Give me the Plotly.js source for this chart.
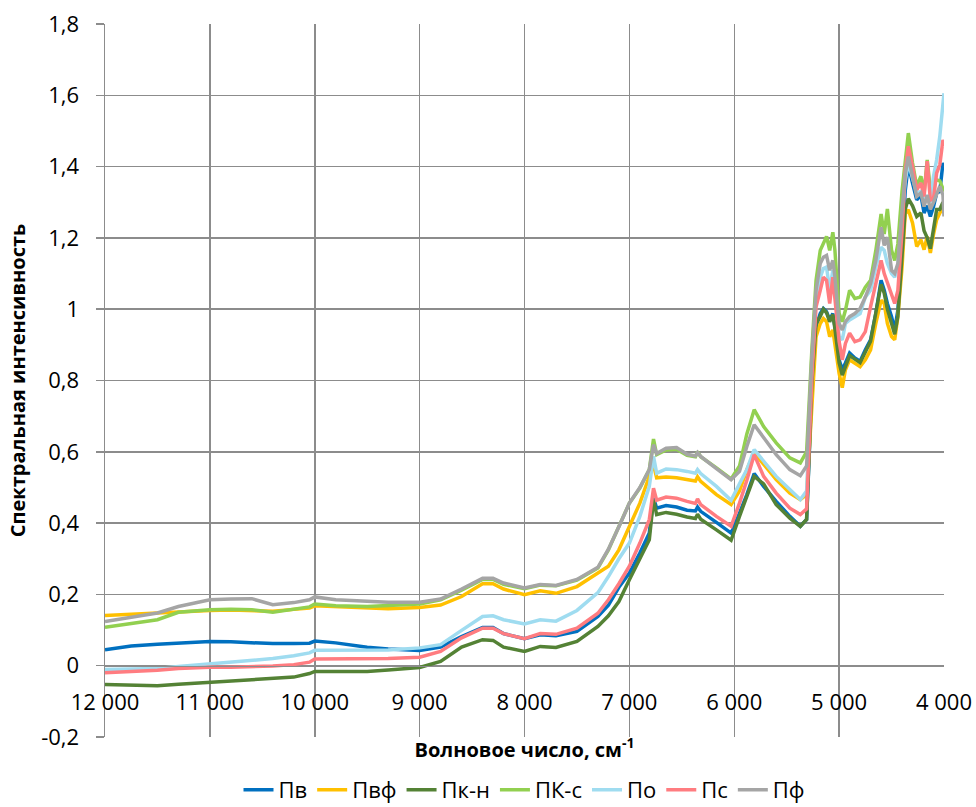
<!DOCTYPE html>
<html>
<head>
<meta charset="utf-8">
<script src="https://cdn.plot.ly/plotly-3.0.1.min.js"></script>
<style>html,body{margin:0;padding:0;background:#fff;}#chart{width:976px;height:807px;}</style>
</head>
<body>
<div id="chart"></div>
<script>
const wavenumbers = [12000,11750,11500,11300,11000,10800,10600,10400,10200,10050,10000,9800,9500,9300,9000,8800,8600,8400,8300,8200,8000,7850,7700,7500,7300,7200,7100,7000,6900,6810,6770,6740,6650,6550,6450,6370,6350,6320,6170,6030,5950,5880,5810,5720,5600,5470,5370,5310,5260,5220,5180,5150,5120,5090,5060,5040,5000,4970,4940,4900,4850,4800,4750,4700,4650,4600,4570,4540,4500,4470,4440,4400,4370,4340,4300,4260,4220,4190,4160,4130,4100,4070,4040,4010,4000];

const seriesNames = ["Пв","Пвф","Пк-н","ПК-с","По","Пс","Пф"];
const seriesColors = ["#0070C0","#FFC000","#548235","#92D050","#9FDCF0","#FF7C80","#A5A5A5"];

const pv = [0.045,0.055,0.060,0.064,0.068,0.067,0.064,0.062,0.062,0.063,0.069,0.064,0.052,0.047,0.043,0.052,0.082,0.107,0.107,0.090,0.076,0.087,0.084,0.096,0.138,0.170,0.220,0.260,0.316,0.372,0.470,0.442,0.449,0.445,0.436,0.434,0.445,0.433,0.402,0.372,0.428,0.480,0.539,0.503,0.461,0.419,0.391,0.410,0.774,0.951,0.988,1.002,0.993,0.970,0.988,0.951,0.858,0.830,0.849,0.877,0.863,0.854,0.886,0.914,0.988,1.081,1.053,1.016,0.979,0.942,0.997,1.165,1.332,1.405,1.354,1.307,1.320,1.270,1.290,1.260,1.288,1.326,1.330,1.410,1.400];

const pvf = [0.141,0.145,0.148,0.152,0.155,0.156,0.155,0.153,0.158,0.162,0.168,0.166,0.162,0.160,0.163,0.170,0.194,0.230,0.230,0.215,0.199,0.210,0.203,0.222,0.260,0.279,0.325,0.391,0.456,0.531,0.564,0.527,0.529,0.527,0.522,0.518,0.530,0.517,0.480,0.452,0.490,0.550,0.597,0.564,0.522,0.484,0.466,0.480,0.746,0.923,0.960,0.974,0.965,0.923,0.942,0.895,0.820,0.780,0.830,0.858,0.849,0.839,0.858,0.886,0.960,1.025,1.016,0.960,0.923,0.914,0.979,1.118,1.267,1.279,1.242,1.176,1.195,1.167,1.204,1.158,1.210,1.251,1.270,1.280,1.275];

const pkn = [-0.053,-0.055,-0.056,-0.052,-0.047,-0.043,-0.040,-0.037,-0.032,-0.022,-0.016,-0.016,-0.016,-0.012,-0.005,0.012,0.052,0.073,0.071,0.052,0.040,0.054,0.051,0.068,0.110,0.140,0.180,0.241,0.302,0.353,0.466,0.424,0.430,0.425,0.417,0.413,0.425,0.411,0.381,0.352,0.419,0.475,0.531,0.510,0.452,0.414,0.391,0.410,0.793,0.960,0.980,1.000,0.990,0.965,0.985,0.945,0.850,0.815,0.840,0.870,0.860,0.850,0.880,0.910,0.990,1.070,1.045,1.000,0.960,0.930,0.980,1.150,1.280,1.310,1.290,1.260,1.270,1.220,1.200,1.170,1.230,1.280,1.280,1.300,1.270];

const pks = [0.108,0.118,0.129,0.150,0.157,0.158,0.157,0.150,0.158,0.165,0.173,0.168,0.166,0.168,0.173,0.185,0.212,0.242,0.242,0.228,0.216,0.226,0.224,0.240,0.274,0.325,0.390,0.456,0.498,0.550,0.636,0.592,0.605,0.607,0.590,0.586,0.600,0.586,0.555,0.524,0.560,0.650,0.718,0.671,0.625,0.583,0.569,0.600,0.886,1.081,1.165,1.183,1.204,1.165,1.216,1.165,0.988,0.965,0.997,1.053,1.030,1.034,1.062,1.081,1.165,1.267,1.211,1.281,1.165,1.137,1.183,1.332,1.425,1.494,1.410,1.345,1.373,1.326,1.419,1.335,1.350,1.363,1.360,1.335,1.330];

const po = [-0.011,-0.010,-0.008,-0.002,0.005,0.009,0.014,0.020,0.028,0.036,0.043,0.043,0.042,0.044,0.050,0.059,0.099,0.138,0.140,0.129,0.117,0.129,0.125,0.155,0.205,0.250,0.300,0.344,0.419,0.503,0.587,0.540,0.552,0.550,0.545,0.540,0.550,0.539,0.503,0.464,0.510,0.550,0.606,0.573,0.531,0.494,0.466,0.490,0.839,1.025,1.090,1.114,1.118,1.053,1.109,1.053,0.923,0.914,0.960,0.970,0.979,0.988,1.034,1.053,1.118,1.174,1.165,1.128,1.100,1.090,1.118,1.258,1.360,1.410,1.363,1.326,1.330,1.298,1.320,1.300,1.373,1.419,1.485,1.569,1.606];

const ps = [-0.020,-0.017,-0.013,-0.008,-0.004,-0.004,-0.003,-0.001,0.003,0.010,0.019,0.019,0.019,0.020,0.024,0.040,0.078,0.105,0.105,0.090,0.076,0.090,0.088,0.105,0.147,0.185,0.230,0.279,0.344,0.410,0.498,0.464,0.473,0.470,0.461,0.455,0.468,0.452,0.419,0.391,0.456,0.520,0.592,0.531,0.484,0.442,0.424,0.440,0.810,1.007,1.053,1.090,1.081,1.016,1.090,1.034,0.909,0.858,0.904,0.933,0.909,0.914,0.937,1.007,1.072,1.137,1.100,1.076,1.044,1.016,1.053,1.220,1.388,1.457,1.400,1.335,1.354,1.316,1.415,1.306,1.310,1.382,1.405,1.475,1.457];

const pf = [0.124,0.135,0.148,0.166,0.185,0.187,0.188,0.171,0.177,0.185,0.193,0.185,0.180,0.178,0.178,0.187,0.215,0.245,0.245,0.232,0.218,0.228,0.225,0.242,0.276,0.327,0.390,0.456,0.500,0.550,0.620,0.595,0.610,0.612,0.593,0.588,0.598,0.587,0.553,0.522,0.545,0.615,0.676,0.639,0.592,0.550,0.533,0.560,0.867,1.053,1.128,1.146,1.151,1.109,1.137,1.090,0.960,0.942,0.965,0.979,0.988,1.002,1.034,1.072,1.137,1.230,1.179,1.202,1.109,1.100,1.128,1.276,1.379,1.428,1.373,1.316,1.326,1.288,1.320,1.280,1.300,1.326,1.345,1.320,1.260];

const seriesValues = [pv, pvf, pkn, pks, po, ps, pf];

const xTickVals = [12000,11000,10000,9000,8000,7000,6000,5000,4000];
const xTickText = ["12 000","11 000","10 000","9 000","8 000","7 000","6 000","5 000","4 000"];
const yTickVals = [-0.2,0,0.2,0.4,0.6,0.8,1,1.2,1.4,1.6,1.8];
const yTickText = ["-0,2","0","0,2","0,4","0,6","0,8","1","1,2","1,4","1,6","1,8"];

const FONT = '"Open Sans", "DejaVu Sans", sans-serif';
const GRID = '#8C8C8C';

const traces = seriesNames.map((name, i) => ({
  type: 'scatter',
  mode: 'lines',
  name: name,
  x: wavenumbers,
  y: seriesValues[i],
  line: {color: seriesColors[i], width: 3.5},
  hoverinfo: 'skip'
}));

const layout = {
  width: 976,
  height: 807,
  margin: {l: 105, r: 32, t: 24, b: 70},
  paper_bgcolor: '#ffffff',
  plot_bgcolor: '#ffffff',
  font: {family: FONT, color: '#000000', size: 20},
  showlegend: true,
  legend: {
    orientation: 'h',
    x: 0.5, xanchor: 'center',
    yref: 'container', y: 0.021, yanchor: 'middle',
    font: {family: FONT, size: 22, color: '#000'},
    itemwidth: 30,
    tracegroupgap: 0,
    bgcolor: 'rgba(0,0,0,0)'
  },
  xaxis: {
    range: [12000, 4000],
    tickmode: 'array',
    tickvals: xTickVals,
    ticktext: xTickText,
    anchor: 'free',
    position: 0.1,
    showgrid: true,
    gridcolor: GRID,
    gridwidth: 1.5,
    showline: true,
    linecolor: GRID,
    linewidth: 1.5,
    zeroline: false,
    ticks: '',
    ticklabelstandoff: 16,
    tickfont: {family: FONT, size: 22, color: '#000'},
    automargin: false,
    title: {
      text: 'Волновое число, см<sup>-1</sup>',
      font: {family: FONT, size: 20, color: '#000', weight: 'bold'},
      standoff: 28
    }
  },
  yaxis: {
    range: [-0.2, 1.8],
    tickmode: 'array',
    tickvals: yTickVals,
    ticktext: yTickText,
    showgrid: true,
    gridcolor: GRID,
    gridwidth: 1.5,
    showline: true,
    linecolor: GRID,
    linewidth: 1.5,
    zeroline: false,
    ticks: 'outside',
    ticklen: 8,
    tickcolor: GRID,
    tickwidth: 1.5,
    ticklabelstandoff: 12,
    tickfont: {family: FONT, size: 22, color: '#000'},
    automargin: false,
    title: {
      text: 'Спектральная интенсивность',
      font: {family: FONT, size: 20, color: '#000', weight: 'bold'},
      standoff: 10
    }
  }
};

Plotly.newPlot('chart', traces, layout, {displayModeBar: false, staticPlot: true});
</script>
</body>
</html>
